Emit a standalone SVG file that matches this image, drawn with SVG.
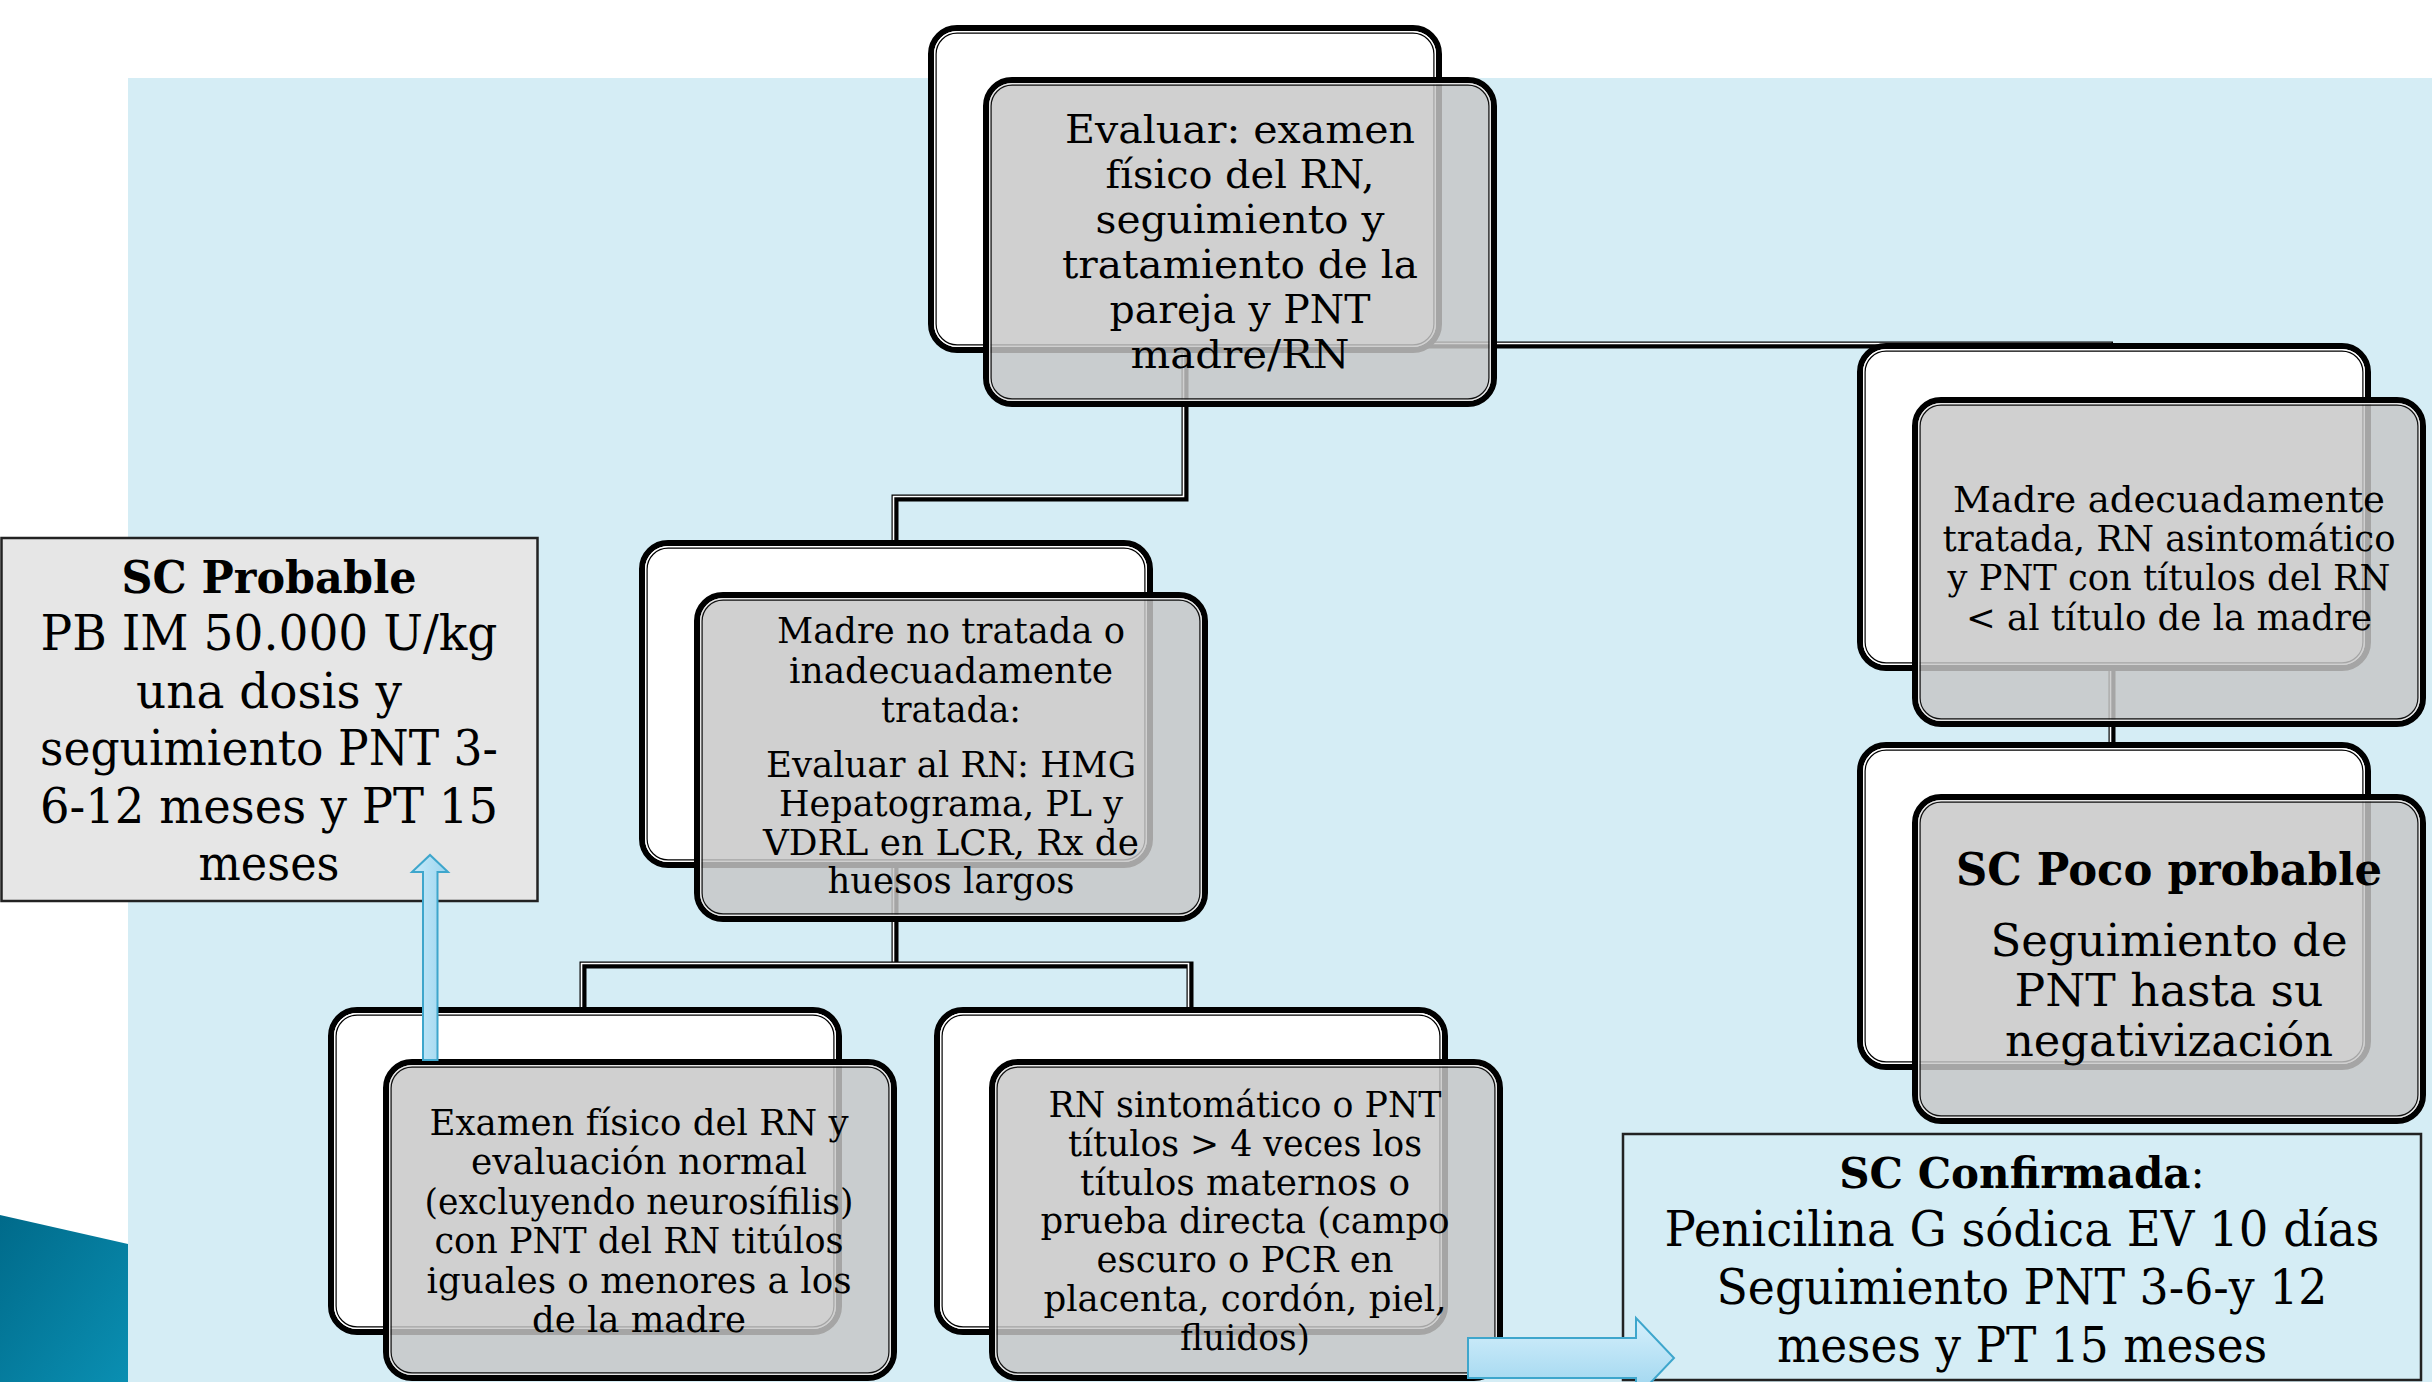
<svg xmlns="http://www.w3.org/2000/svg" xmlns:xlink="http://www.w3.org/1999/xlink" width="2432" height="1382" viewBox="0 0 2432 1382">
<style>
.bk{fill:#fff;stroke:#000;stroke-width:6}
.bki{fill:none;stroke:#fff;stroke-width:1.5}
.bkl{fill:none;stroke:#000;stroke-width:1.2}
.fr{fill:#c6c6c6;fill-opacity:.83;stroke:#000;stroke-width:6}
.fri{fill:none;stroke:#e6e6e6;stroke-width:1.5}
.frl{fill:none;stroke:#111;stroke-width:1.2}
.t{font-family:"DejaVu Serif","Liberation Serif",serif;fill:#000;text-anchor:middle}
.s35{font-size:35px}
.s40{font-size:40px}
.s44{font-size:44px}
.s48{font-size:48px}
.b{font-weight:bold}
.cb{fill:none;stroke:#000;stroke-width:7;stroke-linejoin:miter}
.cw{fill:none;stroke:#fff;stroke-width:1.6}
.arrow{stroke:#3ea6cc;stroke-width:2}
</style>
<defs>
<linearGradient id="teal" x1="0" y1="0" x2="1" y2="1">
<stop offset="0" stop-color="#006a8a"/>
<stop offset="1" stop-color="#0a8fb2"/>
</linearGradient>
<linearGradient id="arrV" x1="0" y1="0" x2="0" y2="1">
<stop offset="0" stop-color="#d6f0fc"/>
<stop offset="1" stop-color="#9bd4ee"/>
</linearGradient>
<linearGradient id="arrH" x1="0" y1="0" x2="1" y2="0">
<stop offset="0" stop-color="#c9ebfa"/>
<stop offset="1" stop-color="#9bd4ee"/>
</linearGradient>
<g id="backbox">
<rect class="bk" x="3" y="3" width="508" height="322" rx="26"/>
<rect class="bki" x="6.75" y="6.75" width="500.5" height="314.5" rx="22.5"/>
<rect class="bkl" x="8.1" y="8.1" width="497.8" height="311.8" rx="21"/>
</g>
<g id="frontbox">
<rect class="fr" x="3" y="3" width="508" height="324" rx="26"/>
<rect class="fri" x="6.75" y="6.75" width="500.5" height="316.5" rx="22.5"/>
<rect class="frl" x="8.1" y="8.1" width="497.8" height="313.8" rx="21"/>
</g>
<g id="frontboxS">
<rect class="fr" x="3" y="3" width="508" height="316" rx="26"/>
<rect class="fri" x="6.75" y="6.75" width="500.5" height="308.5" rx="22.5"/>
<rect class="frl" x="8.1" y="8.1" width="497.8" height="305.8" rx="21"/>
</g>
</defs>

<rect x="0" y="0" width="2432" height="1382" fill="#fff"/>
<rect x="128" y="78" width="2304" height="1304" fill="#d5edf5"/>
<polygon points="0,1215 128,1244 128,1382 0,1382" fill="url(#teal)"/>

<g id="connectors">
<path class="cb" d="M1185,200 V498 H895 V545"/>
<path class="cw" transform="translate(-1.5,-1.5)" d="M1185,200 V498 H895 V545"/>
<path class="cb" d="M1185,345 H2113"/>
<path class="cw" transform="translate(-1.5,-1.5)" d="M1185,345 H2113"/>
<path class="cb" d="M895,700 V965"/>
<path class="cw" transform="translate(-1.5,-1.5)" d="M895,700 V965"/>
<path class="cb" d="M583,1012 V965 H1190 V1012"/>
<path class="cw" transform="translate(-1.5,-1.5)" d="M583,1012 V965 H1190 V1012"/>
<path class="cb" d="M2112,600 V748"/>
<path class="cw" transform="translate(-1.5,-1.5)" d="M2112,600 V748"/>
</g>

<g id="node-evaluar">
<use xlink:href="#backbox" transform="translate(928,25)"/>
<use xlink:href="#frontbox" transform="translate(983,77)"/>
<text class="t s40" x="1240" y="143" textLength="350" lengthAdjust="spacingAndGlyphs">Evaluar: examen</text>
<text class="t s40" x="1240" y="188" textLength="269" lengthAdjust="spacingAndGlyphs">físico del RN,</text>
<text class="t s40" x="1240" y="233" textLength="289" lengthAdjust="spacingAndGlyphs">seguimiento y</text>
<text class="t s40" x="1240" y="278" textLength="356" lengthAdjust="spacingAndGlyphs">tratamiento de la</text>
<text class="t s40" x="1240" y="323" textLength="261" lengthAdjust="spacingAndGlyphs">pareja y PNT</text>
<text class="t s40" x="1240" y="368" textLength="219" lengthAdjust="spacingAndGlyphs">madre/RN</text>
</g>

<g id="node-no-tratada">
<use xlink:href="#backbox" transform="translate(639,540)"/>
<use xlink:href="#frontbox" transform="translate(694,592)"/>
<text class="t s35" x="951" y="643" textLength="348" lengthAdjust="spacingAndGlyphs">Madre no tratada o</text>
<text class="t s35" x="951" y="683" textLength="324" lengthAdjust="spacingAndGlyphs">inadecuadamente</text>
<text class="t s35" x="951" y="722" textLength="140" lengthAdjust="spacingAndGlyphs">tratada:</text>
<text class="t s35" x="951" y="777" textLength="370" lengthAdjust="spacingAndGlyphs">Evaluar al RN: HMG</text>
<text class="t s35" x="951" y="816" textLength="344" lengthAdjust="spacingAndGlyphs">Hepatograma, PL y</text>
<text class="t s35" x="951" y="855" textLength="376" lengthAdjust="spacingAndGlyphs">VDRL en LCR, Rx de</text>
<text class="t s35" x="951" y="893" textLength="247" lengthAdjust="spacingAndGlyphs">huesos largos</text>
</g>

<g id="node-adecuada">
<use xlink:href="#backbox" transform="translate(1857,343)"/>
<use xlink:href="#frontbox" transform="translate(1912,397)"/>
<text class="t s35" x="2169" y="512" textLength="432" lengthAdjust="spacingAndGlyphs">Madre adecuadamente</text>
<text class="t s35" x="2169" y="551" textLength="453" lengthAdjust="spacingAndGlyphs">tratada, RN asintomático</text>
<text class="t s35" x="2169" y="590" textLength="443" lengthAdjust="spacingAndGlyphs">y PNT con títulos del RN</text>
<text class="t s35" x="2169" y="630" textLength="406" lengthAdjust="spacingAndGlyphs">&lt; al título de la madre</text>
</g>

<g id="node-poco-probable">
<use xlink:href="#backbox" transform="translate(1857,742)"/>
<use xlink:href="#frontbox" transform="translate(1912,794)"/>
<text class="t s44 b" x="2169" y="885" textLength="426" lengthAdjust="spacingAndGlyphs">SC Poco probable</text>
<text class="t s44" x="2169" y="956" textLength="357" lengthAdjust="spacingAndGlyphs">Seguimiento de</text>
<text class="t s44" x="2169" y="1006" textLength="309" lengthAdjust="spacingAndGlyphs">PNT hasta su</text>
<text class="t s44" x="2169" y="1056" textLength="328" lengthAdjust="spacingAndGlyphs">negativización</text>
</g>

<g id="node-examen-normal">
<use xlink:href="#backbox" transform="translate(328,1007)"/>
<use xlink:href="#frontboxS" transform="translate(383,1059)"/>
<text class="t s35" x="639" y="1135" textLength="419" lengthAdjust="spacingAndGlyphs">Examen físico del RN y</text>
<text class="t s35" x="639" y="1174" textLength="336" lengthAdjust="spacingAndGlyphs">evaluación normal</text>
<text class="t s35" x="639" y="1214" textLength="429" lengthAdjust="spacingAndGlyphs">(excluyendo neurosífilis)</text>
<text class="t s35" x="639" y="1253" textLength="409" lengthAdjust="spacingAndGlyphs">con PNT del RN titúlos</text>
<text class="t s35" x="639" y="1293" textLength="425" lengthAdjust="spacingAndGlyphs">iguales o menores a los</text>
<text class="t s35" x="639" y="1332" textLength="214" lengthAdjust="spacingAndGlyphs">de la madre</text>
</g>

<g id="node-sintomatico">
<use xlink:href="#backbox" transform="translate(934,1007)"/>
<use xlink:href="#frontboxS" transform="translate(989,1059)"/>
<text class="t s35" x="1245" y="1117" textLength="393" lengthAdjust="spacingAndGlyphs">RN sintomático o PNT</text>
<text class="t s35" x="1245" y="1156" textLength="354" lengthAdjust="spacingAndGlyphs">títulos &gt; 4 veces los</text>
<text class="t s35" x="1245" y="1195" textLength="330" lengthAdjust="spacingAndGlyphs">títulos maternos o</text>
<text class="t s35" x="1245" y="1233" textLength="409" lengthAdjust="spacingAndGlyphs">prueba directa (campo</text>
<text class="t s35" x="1245" y="1272" textLength="297" lengthAdjust="spacingAndGlyphs">escuro o PCR en</text>
<text class="t s35" x="1245" y="1311" textLength="403" lengthAdjust="spacingAndGlyphs">placenta, cordón, piel,</text>
<text class="t s35" x="1245" y="1350" textLength="130" lengthAdjust="spacingAndGlyphs">fluidos)</text>
</g>

<g id="node-sc-probable">
<rect x="1.5" y="538" width="536" height="363" fill="#e6e6e6" stroke="#222" stroke-width="2.5"/>
<text class="t s44 b" x="269" y="593" textLength="295" lengthAdjust="spacingAndGlyphs">SC Probable</text>
<text class="t s48" x="269" y="650" textLength="457" lengthAdjust="spacingAndGlyphs">PB IM 50.000 U/kg</text>
<text class="t s48" x="269" y="708" textLength="266" lengthAdjust="spacingAndGlyphs">una dosis y</text>
<text class="t s48" x="269" y="765" textLength="458" lengthAdjust="spacingAndGlyphs">seguimiento PNT 3-</text>
<text class="t s48" x="269" y="823" textLength="458" lengthAdjust="spacingAndGlyphs">6-12 meses y PT 15</text>
<text class="t s48" x="269" y="880" textLength="141" lengthAdjust="spacingAndGlyphs">meses</text>
</g>

<g id="node-sc-confirmada">
<rect x="1623" y="1134" width="798" height="246" fill="#d5edf5" stroke="#222" stroke-width="2.5"/>
<text class="t" x="2022" y="1188" style="font-size:42px"><tspan font-weight="bold">SC Confirmada</tspan><tspan>:</tspan></text>
<text class="t s48" x="2022" y="1246" textLength="715" lengthAdjust="spacingAndGlyphs">Penicilina G sódica EV 10 días</text>
<text class="t s48" x="2022" y="1304" textLength="611" lengthAdjust="spacingAndGlyphs">Seguimiento PNT 3-6-y 12</text>
<text class="t s48" x="2022" y="1362" textLength="490" lengthAdjust="spacingAndGlyphs">meses y PT 15 meses</text>
</g>

<g id="arrows">
<polygon class="arrow" fill="url(#arrH)" points="423,1060 423,872 412,872 430,855 448,872 437.5,872 437.5,1060"/>
<polygon class="arrow" fill="url(#arrV)" points="1468,1338 1636,1338 1636,1318 1674,1358 1636,1398 1636,1378 1468,1378"/>
</g>
</svg>
